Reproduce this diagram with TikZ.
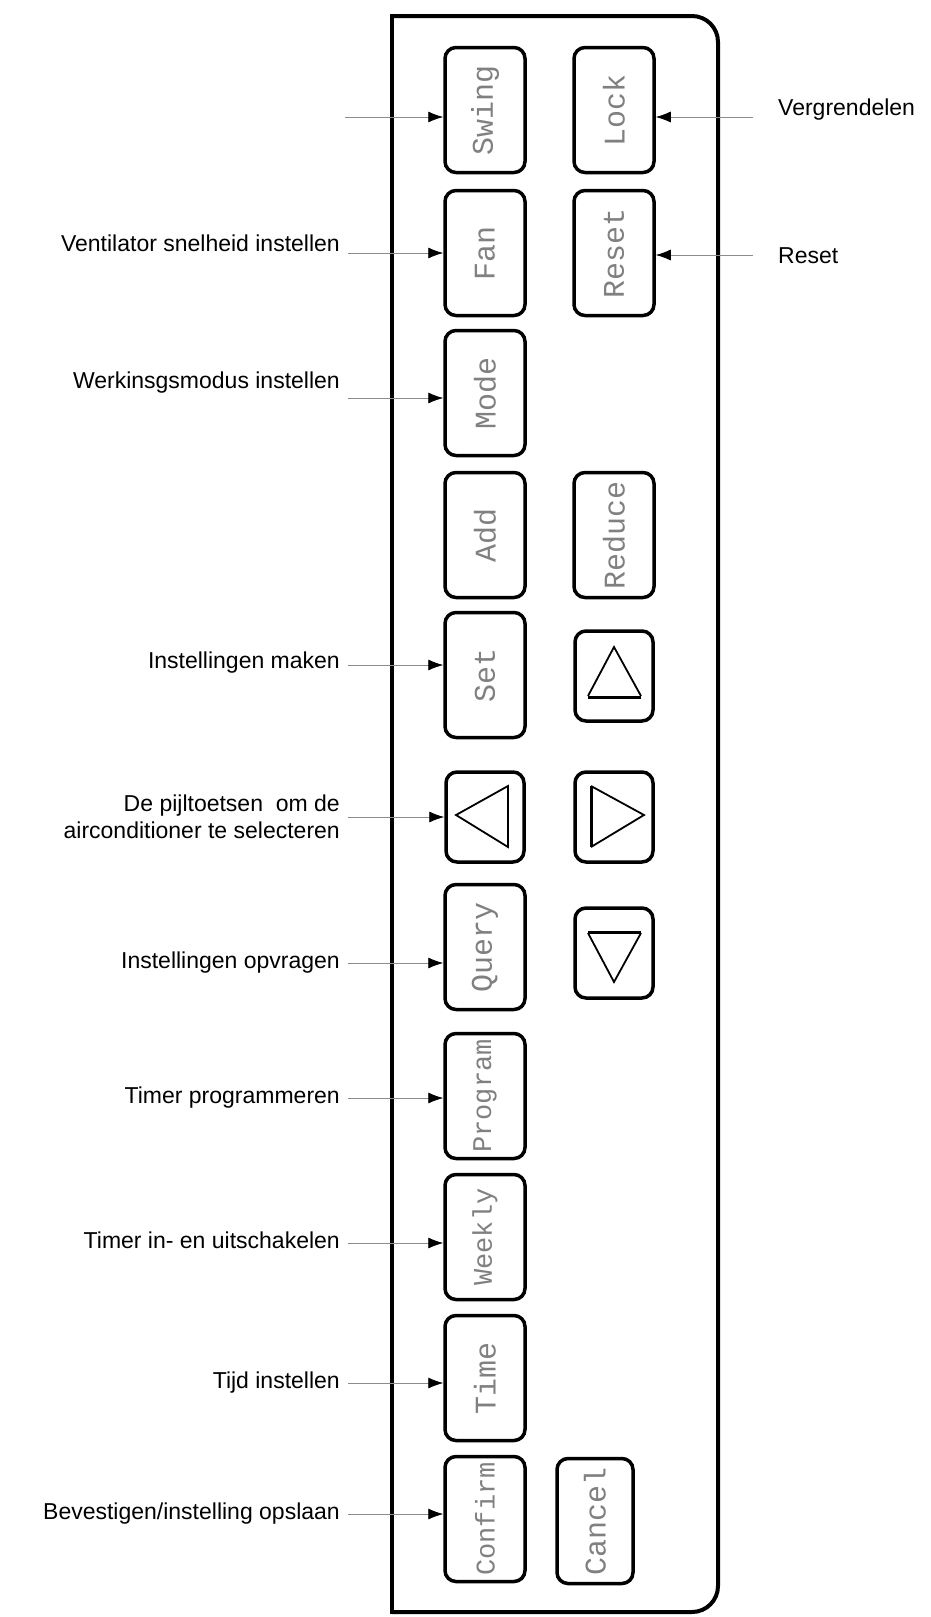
\documentclass[tikz,border=0pt]{standalone}
\usepackage{fontspec}
\setmainfont{Liberation Sans}
\newfontfamily\keyfont{Liberation Mono}
\usetikzlibrary{arrows.meta}
\definecolor{KeyGray}{rgb}{0.5,0.5,0.5}
\definecolor{LineGray}{rgb}{0.55,0.55,0.55}

\tikzset{
  key/.style={draw,line width=3.5pt,rounded corners=11pt,rotate=90,minimum width=125pt,minimum height=80pt,inner sep=0pt,font=\keyfont\fontsize{30}{30}\selectfont,text=KeyGray},
  pad/.style={draw,line width=3.5pt,rounded corners=11pt,minimum width=78pt,minimum height=90pt,inner sep=0pt},
  lbl/.style={font=\fontsize{23}{27}\selectfont,inner sep=0pt,align=right},
  pin/.style={LineGray,line width=0.8pt,-{Latex[length=15pt,width=11pt,black]}}
}

\begin{document}
\begin{tikzpicture}[x=1pt,y=-1pt]
\useasboundingbox (0,0) rectangle (931,1617);

\draw[line width=4pt,rounded corners=26pt] (392,1612) -- (718,1612) -- (718,16) -- (392,16);
\draw[line width=4pt] (392,14) -- (392,1614);

% left column
\node[key] (swing) at (485,110) {Swing};
\node[key] (fan) at (485,253) {Fan};
\node[key] (mode) at (485,393) {Mode};
\node[key] (add) at (485,535) {Add};
\node[key] (set) at (485,675) {Set};
\node[pad] (left) at (485,817) {};
\node[key] (query) at (485,947) {Query};
\node[key,font=\keyfont\fontsize{27}{27}\selectfont] (program) at (485,1096) {Program};
\node[key,font=\keyfont\fontsize{27}{27}\selectfont] (weekly) at (485,1237) {Weekly};
\node[key] (time) at (485,1378) {Time};
\node[key,font=\keyfont\fontsize{27}{27}\selectfont] (confirm) at (485,1519) {Confirm};

% right column
\node[key] (lock) at (614,110) {Lock};
\node[key] (reset) at (614,253) {Reset};
\node[key] (reduce) at (614,535) {Reduce};
\node[pad] (up) at (614,676) {};
\node[pad] (right) at (614,817) {};
\node[pad] (down) at (614,953) {};
\node[key,minimum height=76pt] (cancel) at (595,1521) {Cancel};

% arrow glyphs
\draw[line width=3pt] (588,697) -- (641,697);
\draw[line width=1.8pt] (588,696) -- (614,647) -- (641,696);
\draw[line width=1.8pt] (508,817) -- (508,786) -- (456,815) -- (508,847) -- cycle;
\draw[line width=3pt] (591,786) -- (591,847);
\draw[line width=1.8pt] (591,786) -- (644,815) -- (591,847);
\draw[line width=3pt] (588,932) -- (641,932);
\draw[line width=1.8pt] (588,933) -- (614,982) -- (641,933);

% labels
\coordinate (swingpin) at (345,117);
\node[lbl,anchor=east] (fanlbl) at (340,243) {Ventilator snelheid instellen};
\node[lbl,anchor=east] (modelbl) at (340,383) {Werkinsgsmodus instellen};
\node[lbl,anchor=east] (setlbl) at (340,663) {Instellingen maken};
\node[lbl,anchor=east] (leftlbl) at (340,817) {De pijltoetsen\ \ om de\\airconditioner te selecteren};
\node[lbl,anchor=east] (querylbl) at (340,963) {Instellingen opvragen};
\node[lbl,anchor=east] (programlbl) at (340,1098) {Timer programmeren};
\node[lbl,anchor=east] (weeklylbl) at (340,1240) {Timer in- en uitschakelen};
\node[lbl,anchor=east] (timelbl) at (340,1383) {Tijd instellen};
\node[lbl,anchor=east] (confirmlbl) at (340,1514) {Bevestigen/instelling opslaan};
\node[lbl,anchor=west] (locklbl) at (778,110) {Vergrendelen};
\node[lbl,anchor=west] (resetlbl) at (778,256) {Reset};

\draw[pin] (swingpin) -- (swing.north |- swingpin);
\draw[pin] (fanlbl.east) ++(8,10) -- (fan.north |- 0,253);
\draw[pin] (modelbl.east) ++(8,15) -- (mode.north |- 0,398);
\draw[pin] (setlbl.east) ++(8,2) -- (set.north |- 0,665);
\draw[pin] (leftlbl.east) ++(8,0) -- (left.west);
\draw[pin] (querylbl.east) ++(8,0) -- (query.north |- 0,963);
\draw[pin] (programlbl.east) ++(8,0) -- (program.north |- 0,1098);
\draw[pin] (weeklylbl.east) ++(8,3) -- (weekly.north |- 0,1243);
\draw[pin] (timelbl.east) ++(8,0) -- (time.north |- 0,1383);
\draw[pin] (confirmlbl.east) ++(8,0) -- (confirm.north |- 0,1514);
\draw[pin] (locklbl.west) ++(-25,7) -- (lock.south |- 0,117);
\draw[pin] (resetlbl.west) ++(-25,-1) -- (reset.south |- 0,255);
\end{tikzpicture}
\end{document}
